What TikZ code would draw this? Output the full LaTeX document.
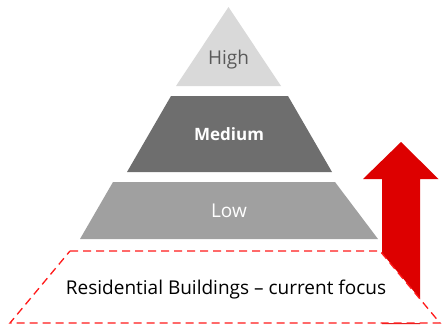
\documentclass[tikz,border=0pt]{standalone}
\usepackage{fontspec}
\setmainfont{Open Sans}
\definecolor{highc}{HTML}{D9D9D9}
\definecolor{medc}{HTML}{6E6E6E}
\definecolor{lowc}{HTML}{A0A0A0}
\definecolor{hightext}{HTML}{595959}
\definecolor{arrowred}{HTML}{DD0000}
\definecolor{dashred}{HTML}{FF1A1A}
\begin{document}
\begin{tikzpicture}[x=1pt,y=-1pt,
  lvltext/.style={font=\fontsize{19}{22}\selectfont, anchor=center}]
\useasboundingbox (0,0) rectangle (442,327);
% arrow (behind the dashed base)
\fill[arrowred] (382,324) -- (382,179) -- (363,179) -- (401,142) -- (438.5,179) -- (420,179) -- (420,324) -- cycle;
% high
\fill[highc] (228.5,7) -- (281,86) -- (176,86) -- cycle;
% medium
\fill[medc] (171,96) -- (288,96) -- (332,172) -- (127,172) -- cycle;
% low
\fill[lowc] (113,182) -- (335,182) -- (378,239) -- (80,239) -- cycle;
% dashed base
\filldraw[fill=white, draw=dashred, dash pattern=on 8pt off 5pt, line width=1.3pt] (70,251) -- (380,251) -- (440,323) -- (10,323) -- cycle;
\node[lvltext, text=hightext] (high) at (228.5,60) {High};
\node[lvltext, text=white, font=\fontsize{17}{20}\selectfont\bfseries] (med) at (229,134) {Medium};
\node[lvltext, text=white] (low) at (229,211) {Low};
\node[lvltext, text=black] (res) at (226,290) {Residential Buildings – current focus};
\end{tikzpicture}
\end{document}
